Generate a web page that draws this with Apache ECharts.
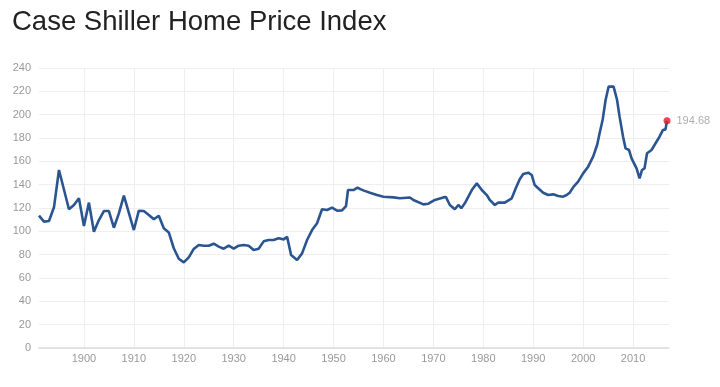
<!DOCTYPE html>
<html>
<head>
<meta charset="utf-8">
<script src="https://cdn.jsdelivr.net/npm/echarts@6/dist/echarts.min.js"></script>
<style>
html,body{margin:0;padding:0;background:#fff;}
#chart{width:720px;height:387px;}
</style>
</head>
<body>
<div id="chart"></div>
<script>
const title = "Case Shiller Home Price Index";
const years = [1891,1892,1893,1894,1895,1897,1898,1899,1900,1901,1902,1903,1904,1905,1906,1907,1908,1910,1911,1912,1913,1914,1915,1916,1917,1918,1919,1920,1921,1922,1923,1924,1925,1926,1927,1928,1929,1930,1931,1932,1933,1934,1935,1936,1937,1938,1939,1940,1940.7,1941.5,1942.7,1943.7,1944.7,1945.7,1946.7,1947.7,1948.7,1949.7,1950.7,1951.7,1952.5,1952.9,1954,1954.8,1955.5,1956.1,1957.3,1958.7,1960,1962,1963.3,1965.3,1966,1968,1969,1970.3,1972,1972.5,1973.3,1974.3,1975,1975.6,1976.3,1977.7,1978.7,1979.7,1980.7,1981.3,1982.3,1983,1984.3,1985.7,1986.5,1987.3,1988,1989,1989.7,1990.3,1991,1992,1993,1994,1995,1996,1996.7,1997.3,1998.1,1999,2000,2001,2002,2002.8,2003.3,2003.9,2004.5,2005.1,2005.5,2006.1,2006.8,2007.3,2008,2008.5,2009.2,2009.7,2010.2,2010.7,2011.3,2011.8,2012.3,2012.8,2013.7,2014.3,2015.3,2016,2016.5,2016.8];
const values = [113.4,108.3,108.9,120.6,152.6,118.9,122.6,128.3,104.6,124.6,99.7,109.7,117.4,117.4,103.1,115.4,130.6,101.1,117.7,117.4,114,110.3,113.4,102.6,99.1,85.5,76.5,73.4,77.7,84.9,88.3,87.7,87.7,89.4,86.9,85.1,87.7,85.1,87.7,88.3,87.7,84,85.1,91.4,92.6,92.6,94,93.1,95.4,79.7,75.4,81.1,92.6,101.1,106.9,118.9,118.3,120.3,117.7,118,121.7,135.4,135.4,137.4,136,134.9,133.1,131.1,129.7,129.1,128.3,129,126.9,123.1,123.7,126.9,129.1,129.5,122.6,118.9,122.6,119.8,124,135.4,141.1,135.4,131.1,126.9,122.6,124.6,124.6,128.3,136.9,144.6,149.1,150.3,148.3,139.7,136.9,133.1,131.1,131.7,130.3,129.7,131.1,133.1,138.3,142.6,149.7,155.4,164,174,184,195.4,212.6,224,224.9,224,212.6,198.3,181.1,171.1,169.7,162.6,158.3,154,145.4,152.6,154,166.9,169.7,174,181.1,186.9,187.4,194.68];
const xTicks = [1900,1910,1920,1930,1940,1950,1960,1970,1980,1990,2000,2010];
const yTicks = [0,20,40,60,80,100,120,140,160,180,200,220,240];

const lineData = years.map((y, i) => [y, values[i]]);
const last = lineData[lineData.length - 1];

const chart = echarts.init(document.getElementById('chart'), null, {renderer: 'canvas'});
chart.setOption({
  animation: false,
  backgroundColor: '#fff',
  title: {
    text: title,
    left: 7,
    top: 3,
    textStyle: {fontFamily: 'Liberation Sans, Arial, sans-serif', fontSize: 27.5, fontWeight: 'normal', color: '#222'}
  },
  grid: {left: 39, right: 51, top: 68, bottom: 39},
  xAxis: {
    type: 'value',
    min: years[0],
    max: 2017.2,
    axisLine: {show: true, lineStyle: {color: '#dcdcdc', width: 1.5}},
    axisTick: {show: false, customValues: xTicks},
    axisLabel: {customValues: xTicks, formatter: (v) => String(v), color: '#999', fontSize: 11, margin: 5, fontFamily: 'Liberation Sans, Arial, sans-serif'},
    splitLine: {show: true, lineStyle: {color: '#eeeeee', width: 1}}
  },
  yAxis: {
    type: 'value',
    min: yTicks[0],
    max: yTicks[yTicks.length - 1],
    interval: 20,
    axisLine: {show: false},
    axisTick: {show: false},
    axisLabel: {color: '#999', fontSize: 11, margin: 8, fontFamily: 'Liberation Sans, Arial, sans-serif'},
    splitLine: {show: true, lineStyle: {color: '#eeeeee', width: 1}}
  },
  series: [
    {
      type: 'line',
      data: lineData,
      showSymbol: false,
      lineStyle: {color: '#2b5591', width: 2.6},
      z: 2
    },
    {
      type: 'scatter',
      data: [last],
      symbolSize: 7,
      itemStyle: {color: '#e3162e'},
      label: {show: true, position: 'right', distance: 6, formatter: (p) => p.value[1].toFixed(2), color: '#999', fontSize: 11, fontFamily: 'Liberation Sans, Arial, sans-serif'},
      z: 3
    }
  ]
});
</script>
</body>
</html>
